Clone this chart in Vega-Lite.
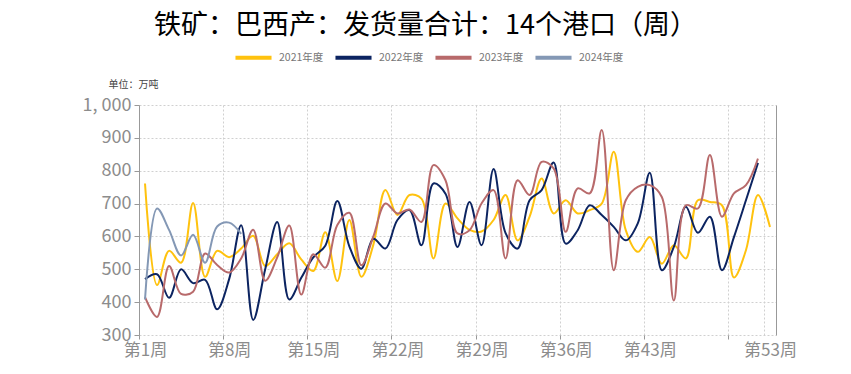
{
  "$schema": "https://vega.github.io/schema/vega-lite/v6.json",
  "width": 637,
  "height": 230,
  "autosize": {"type": "none"},
  "padding": {"left": 139, "top": 105, "right": 75, "bottom": 39},
  "background": "white",
  "title": {
    "text": "铁矿：巴西产：发货量合计：14个港口（周）",
    "font": "Noto Sans CJK SC",
    "fontSize": 27,
    "fontWeight": "normal",
    "color": "#000000",
    "anchor": "middle",
    "frame": "group",
    "dx": -32,
    "offset": -3
  },
  "data": {
    "values": [
      {"w": 1, "2021年度": 761, "2022年度": 470, "2023年度": 415, "2024年度": 408},
      {"w": 2, "2021年度": 452, "2022年度": 485, "2023年度": 355, "2024年度": 685},
      {"w": 3, "2021年度": 556, "2022年度": 413, "2023年度": 510, "2024年度": 620},
      {"w": 4, "2021年度": 520, "2022年度": 500, "2023年度": 425, "2024年度": 542},
      {"w": 5, "2021年度": 702, "2022年度": 458, "2023年度": 432, "2024年度": 605},
      {"w": 6, "2021年度": 477, "2022年度": 468, "2023年度": 548, "2024年度": 520},
      {"w": 7, "2021年度": 556, "2022年度": 378, "2023年度": 513, "2024年度": 630},
      {"w": 8, "2021年度": 537, "2022年度": 470, "2023年度": 490, "2024年度": 642},
      {"w": 9, "2021年度": 563, "2022年度": 634, "2023年度": 533, "2024年度": 608},
      {"w": 10, "2021年度": 602, "2022年度": 346, "2023年度": 620},
      {"w": 11, "2021年度": 510, "2022年度": 500, "2023年度": 465},
      {"w": 12, "2021年度": 546, "2022年度": 644, "2023年度": 536},
      {"w": 13, "2021年度": 579, "2022年度": 408, "2023年度": 633},
      {"w": 14, "2021年度": 530, "2022年度": 474, "2023年度": 423},
      {"w": 15, "2021年度": 495, "2022年度": 536, "2023年度": 546},
      {"w": 16, "2021年度": 613, "2022年度": 572, "2023年度": 505},
      {"w": 17, "2021年度": 464, "2022年度": 708, "2023年度": 635},
      {"w": 18, "2021年度": 650, "2022年度": 570, "2023年度": 672},
      {"w": 19, "2021年度": 477, "2022年度": 502, "2023年度": 512},
      {"w": 20, "2021年度": 575, "2022年度": 593, "2023年度": 600},
      {"w": 21, "2021年度": 741, "2022年度": 563, "2023年度": 700},
      {"w": 22, "2021年度": 665, "2022年度": 650, "2023年度": 670},
      {"w": 23, "2021年度": 726, "2022年度": 680, "2023年度": 682},
      {"w": 24, "2021年度": 715, "2022年度": 573, "2023年度": 644},
      {"w": 25, "2021年度": 533, "2022年度": 761, "2023年度": 817},
      {"w": 26, "2021年度": 700, "2022年度": 730, "2023年度": 771},
      {"w": 27, "2021年度": 655, "2022年度": 568, "2023年度": 609},
      {"w": 28, "2021年度": 620, "2022年度": 705, "2023年度": 619},
      {"w": 29, "2021年度": 615, "2022年度": 573, "2023年度": 700},
      {"w": 30, "2021年度": 650, "2022年度": 805, "2023年度": 741},
      {"w": 31, "2021年度": 726, "2022年度": 610, "2023年度": 533},
      {"w": 32, "2021年度": 588, "2022年度": 563, "2023年度": 771},
      {"w": 33, "2021年度": 660, "2022年度": 710, "2023年度": 726},
      {"w": 34, "2021年度": 776, "2022年度": 741, "2023年度": 827},
      {"w": 35, "2021年度": 670, "2022年度": 825, "2023年度": 807},
      {"w": 36, "2021年度": 710, "2022年度": 578, "2023年度": 614},
      {"w": 37, "2021年度": 670, "2022年度": 619, "2023年度": 746},
      {"w": 38, "2021年度": 680, "2022年度": 695, "2023年度": 731},
      {"w": 39, "2021年度": 700, "2022年度": 665, "2023年度": 924},
      {"w": 40, "2021年度": 858, "2022年度": 629, "2023年度": 497},
      {"w": 41, "2021年度": 619, "2022年度": 588, "2023年度": 710},
      {"w": 42, "2021年度": 553, "2022年度": 640, "2023年度": 751},
      {"w": 43, "2021年度": 598, "2022年度": 794, "2023年度": 756},
      {"w": 44, "2021年度": 517, "2022年度": 497, "2023年度": 720},
      {"w": 45, "2021年度": 573, "2022年度": 568, "2023年度": 405},
      {"w": 46, "2021年度": 533, "2022年度": 690, "2023年度": 695},
      {"w": 47, "2021年度": 710, "2022年度": 611, "2023年度": 685},
      {"w": 48, "2021年度": 705, "2022年度": 660, "2023年度": 848},
      {"w": 49, "2021年度": 695, "2022年度": 497, "2023年度": 660},
      {"w": 50, "2021年度": 475, "2022年度": 598, "2023年度": 731},
      {"w": 51, "2021年度": 558, "2022年度": 710, "2023年度": 756},
      {"w": 52, "2021年度": 726, "2022年度": 824, "2023年度": 837},
      {"w": 53, "2021年度": 629}
    ]
  },
  "transform": [
    {"fold": ["2021年度", "2022年度", "2023年度", "2024年度"], "as": ["year", "value"]},
    {"filter": "isValid(datum.value)"}
  ],
  "encoding": {
    "x": {
      "field": "w",
      "type": "quantitative",
      "scale": {"domain": [0.5, 53.5], "nice": false, "zero": false},
      "axis": {
        "title": null,
        "values": [0.5, 7.5, 14.5, 21.5, 28.5, 35.5, 42.5, 49.5, 52.5],
        "labelExpr": "datum.value == 49.5 ? '' : '第' + (datum.value == 52.5 ? 53 : datum.value + 0.5) + '周'",
        "labelOffset": 6,
        "labelFont": "Noto Sans CJK SC",
        "labelFontSize": 17,
        "labelColor": "#8c8c8c",
        "labelPadding": 3,
        "labelOverlap": false,
        "labelFlush": false,
        "domain": false,
        "ticks": true,
        "tickSize": 4,
        "tickColor": {"condition": {"test": "datum.value == 52.5", "value": "transparent"}, "value": "#999999"},
        "grid": true,
        "gridColor": "#d0d0d0",
        "gridDash": [2, 2],
        "gridWidth": 1
      }
    }
  },
  "layer": [
    {
      "mark": {"type": "line", "interpolate": "catmull-rom", "strokeWidth": 2},
      "encoding": {
        "y": {
          "field": "value",
          "type": "quantitative",
          "scale": {"domain": [300, 1000], "nice": false, "zero": false},
          "axis": {
            "title": "单位：万吨",
            "titleAngle": 0,
            "titleX": -31,
            "titleY": -21,
            "titleAlign": "left",
            "titleBaseline": "middle",
            "titleFont": "Noto Sans CJK SC",
            "titleFontSize": 10,
            "titleFontWeight": "normal",
            "titleColor": "#444444",
            "values": [300, 400, 500, 600, 700, 800, 900, 1000],
            "labelExpr": "replace(format(datum.value, ',.0f'), ',', ', ')",
            "labelFont": "Noto Sans CJK SC",
            "labelFontSize": 18,
            "labelColor": "#8c8c8c",
            "labelPadding": 3,
            "tickSize": 5,
            "tickColor": "#999999",
            "domainColor": "#999999",
            "grid": true,
            "gridColor": "#d0d0d0",
            "gridDash": [2, 2]
          }
        },
        "color": {
          "field": "year",
          "type": "nominal",
          "scale": {
            "domain": ["2021年度", "2022年度", "2023年度", "2024年度"],
            "range": ["#FFC20E", "#0C2461", "#B86A6B", "#8498B5"]
          },
          "legend": {
            "orient": "none",
            "legendX": 94,
            "legendY": -68,
            "direction": "horizontal",
            "title": null,
            "symbolType": "stroke",
            "symbolSize": 1300,
            "symbolStrokeWidth": 4,
            "labelFont": "Noto Sans CJK SC",
            "labelFontSize": 10.5,
            "labelColor": "#777777",
            "labelOffset": 5,
            "columnPadding": 3
          }
        }
      }
    },
    {
      "mark": {"type": "line", "opacity": 0},
      "encoding": {
        "y": {
          "field": "value",
          "type": "quantitative",
          "axis": {
            "orient": "right",
            "title": null,
            "labels": false,
            "ticks": false,
            "grid": false,
            "domain": true,
            "domainColor": "#999999"
          }
        },
        "detail": {"field": "year", "type": "nominal"}
      }
    }
  ],
  "resolve": {"axis": {"y": "independent"}},
  "config": {"view": {"stroke": null}}
}
